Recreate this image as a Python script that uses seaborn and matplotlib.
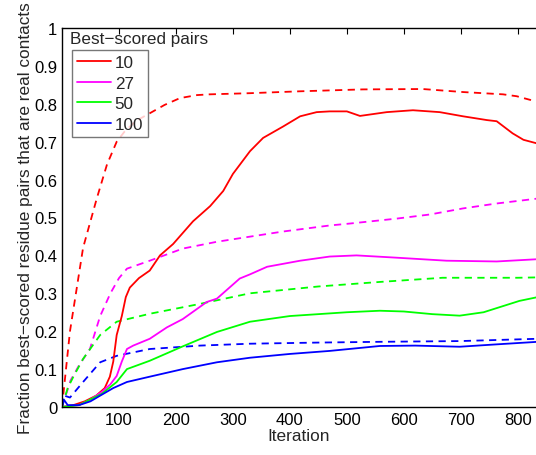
import matplotlib
matplotlib.use("Agg")
import matplotlib.pyplot as plt
from matplotlib.lines import Line2D
import seaborn as sns

# (iteration, fraction) points per curve
red_x = [0, 20, 40, 60, 75, 84, 90, 96, 105, 112, 119, 135, 154, 172, 195, 230, 260, 283,
         300, 330, 353, 388, 418, 447, 470, 500, 523, 570, 616, 663, 704, 746, 763, 791, 810, 835]
red_y = [0, 0.005, 0.015, 0.03, 0.05, 0.08, 0.12, 0.19, 0.24, 0.29, 0.315, 0.34, 0.36, 0.40,
         0.43, 0.49, 0.53, 0.57, 0.615, 0.675, 0.71, 0.74, 0.767, 0.778, 0.78, 0.78, 0.768,
         0.778, 0.783, 0.778, 0.767, 0.757, 0.754, 0.722, 0.705, 0.695]
red_d_x = [0, 14, 37, 61, 79, 96, 110, 130, 154, 180, 207, 237, 260, 330, 418, 528, 633,
           704, 774, 798, 835]
red_d_y = [0, 0.2, 0.42, 0.55, 0.64, 0.70, 0.727, 0.755, 0.775, 0.797, 0.815, 0.823, 0.825,
           0.828, 0.833, 0.838, 0.839, 0.831, 0.825, 0.82, 0.805]

mag_x = [0, 30, 50, 70, 85, 96, 105, 114, 125, 154, 184, 212, 254, 272, 312, 330, 360, 418,
         470, 517, 587, 675, 763, 835]
mag_y = [0, 0.005, 0.02, 0.04, 0.06, 0.082, 0.12, 0.153, 0.162, 0.18, 0.21, 0.232, 0.277,
         0.286, 0.339, 0.35, 0.37, 0.386, 0.397, 0.4, 0.394, 0.386, 0.384, 0.39]
mag_d_x = [0, 15, 30, 49, 67, 85, 100, 114, 154, 212, 272, 388, 470, 505, 587, 646, 704, 763, 835]
mag_d_y = [0, 0.07, 0.11, 0.153, 0.24, 0.3, 0.34, 0.365, 0.386, 0.418, 0.436, 0.463, 0.479,
           0.484, 0.497, 0.508, 0.524, 0.537, 0.55]

grn_x = [0, 30, 50, 70, 96, 114, 154, 212, 272, 330, 400, 500, 558, 600, 650, 698, 740, 803, 835]
grn_y = [0, 0.005, 0.02, 0.035, 0.066, 0.1, 0.122, 0.16, 0.198, 0.225, 0.24, 0.25, 0.254,
         0.252, 0.245, 0.241, 0.25, 0.28, 0.29]
grn_d_x = [0, 10, 20, 37, 67, 96, 154, 242, 330, 450, 558, 668, 800, 835]
grn_d_y = [0, 0.05, 0.08, 0.127, 0.19, 0.225, 0.246, 0.272, 0.30, 0.318, 0.33, 0.341, 0.341, 0.342]

blu_x = [0, 3, 10, 30, 50, 67, 90, 114, 154, 212, 272, 330, 400, 470, 558, 620, 698, 760, 835]
blu_y = [0, 0.02, 0.005, 0.005, 0.015, 0.03, 0.05, 0.066, 0.08, 0.1, 0.118, 0.13, 0.14,
         0.148, 0.161, 0.162, 0.159, 0.165, 0.172]
blu_d_x = [0, 4, 14, 37, 67, 96, 154, 242, 330, 450, 558, 700, 835]
blu_d_y = [0, 0.03, 0.025, 0.066, 0.118, 0.135, 0.153, 0.162, 0.167, 0.17, 0.172, 0.174, 0.18]

labels = ["10", "27", "50", "100"]
colors = ["#ff0000", "#ff00ff", "#00ff00", "#0000ff"]
solid = [(red_x, red_y), (mag_x, mag_y), (grn_x, grn_y), (blu_x, blu_y)]
dashed = [(red_d_x, red_d_y), (mag_d_x, mag_d_y), (grn_d_x, grn_d_y), (blu_d_x, blu_d_y)]

sns.set_style("white")
plt.rcParams["font.family"] = ["Liberation Sans", "DejaVu Sans"]

fig = plt.figure(figsize=(5.36, 4.56), dpi=100)
ax = fig.add_axes([62 / 536, 48 / 456, 474 / 536, 379 / 456])

for (x, y), c in zip(dashed, colors):
    sns.lineplot(x=x, y=y, color=c, lw=1.3, linestyle=(0, (4, 3)), ax=ax)
for (x, y), c in zip(solid, colors):
    sns.lineplot(x=x, y=y, color=c, lw=1.3, ax=ax)

ax.set_xlim(0, 832)
ax.set_ylim(0, 1)
ax.set_xticks(range(100, 801, 100))
ax.set_yticks([i / 10 for i in range(11)])
ax.set_yticklabels(["0"] + [f"{i / 10:.1f}" for i in range(1, 10)] + ["1"])
ax.tick_params(direction="in", top=True, right=False, length=4, width=0.8,
               labelsize=12, colors="black")
for s in ["left", "bottom", "top"]:
    ax.spines[s].set_color("black")
    ax.spines[s].set_linewidth(1.0)
ax.spines["right"].set_visible(False)

ax.set_xlabel("Iteration", fontsize=12.4, labelpad=1)
ax.set_ylabel("Fraction best\u2212scored residue pairs that are real contacts",
              fontsize=12.4, labelpad=1)

handles = [Line2D([], [], color=c, lw=1.3) for c in colors]
leg = ax.legend(handles, labels, loc="upper left", bbox_to_anchor=(0.021, 0.942),
                borderaxespad=0, fontsize=12.3, handlelength=2.0, handletextpad=0.2,
                labelspacing=0.33, borderpad=0.3, frameon=True, fancybox=False)
leg.get_frame().set_edgecolor("#555555")
leg.get_frame().set_linewidth(1.0)
ax.text(0.017, 0.971, "Best\u2212scored pairs", transform=ax.transAxes,
        fontsize=12.3, va="center", ha="left")

fig.savefig("out.png", dpi=100)
